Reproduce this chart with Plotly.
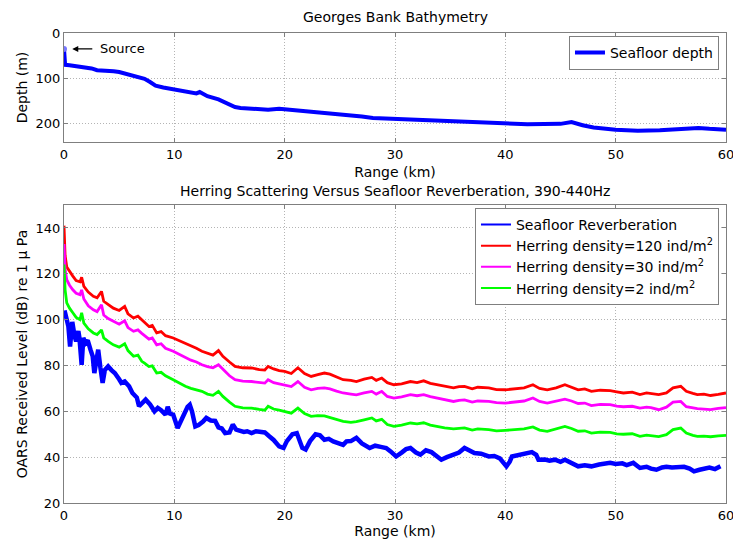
import plotly.graph_objects as go

# ---------------- Bathymetry ----------------
bathy_range_km = [0, 0.05, 0.1, 0.5, 1.0, 1.8, 2.5, 3.0, 3.5, 4.5, 5.0, 5.5, 6.5, 7.3, 7.8,
                  8.3, 9.0, 9.5, 10.5, 11.0, 12.0, 12.3, 13.0, 14.0, 15.0, 15.5, 16.0, 17.0,
                  18.5, 19.5, 21.0, 22.0, 25.0, 27.0, 28.0, 30.0, 32.0, 35.0, 38.0, 40.0,
                  42.0, 45.0, 46.0, 47.0, 48.0, 50.0, 52.0, 54.0, 56.0, 57.5, 58.5, 60.0]
bathy_depth_m = [35, 50, 70, 71, 73, 74, 78, 82, 82, 84, 86, 89, 95, 101, 108,
                 116, 120, 122, 126, 130, 133, 130, 139, 146, 156, 163, 165, 167,
                 169, 167, 170, 174, 178, 184, 187, 189, 192, 195, 199, 201,
                 201, 200, 196, 203, 208, 213, 215, 214, 212, 209, 211, 213]
source_range_km = [0]
source_depth_m = [35]

# ---------------- Received levels ----------------
herring_range_km = [0, 0.1, 0.25, 0.5, 0.8, 1.1, 1.45, 1.6, 1.8, 2.2, 2.66, 3.0, 3.4, 3.6, 4.0,
                    4.47, 5.0, 5.5, 5.8, 6.3, 6.7, 7.05, 7.3, 7.7, 8.0, 8.4, 8.8, 9.2, 9.9,
                    10.4, 11.0, 11.5, 12.0, 12.5, 13.0, 13.5, 14.0, 14.4, 15.0, 15.5, 16.2,
                    17.0, 17.7, 18.2, 18.5, 19.0, 19.5, 20.0, 20.6, 21.2, 21.8, 22.4, 23.0,
                    23.6, 24.1, 24.7, 25.3, 26.0, 26.5, 27.2, 27.9, 28.3, 28.8, 29.3, 29.9,
                    30.6, 31.4, 32.0, 32.6, 33.2, 33.8, 34.5, 35.3, 35.8, 36.3, 37.0, 37.5,
                    38.5, 39.2, 40.0, 40.9, 41.7, 42.5, 43.1, 43.8, 44.6, 45.4, 46.0, 46.6,
                    47.2, 47.8, 48.6, 49.5, 50.1, 50.7, 51.5, 52.2, 52.8, 53.2, 53.9, 54.6,
                    55.2, 55.9, 56.4, 57.0, 57.4, 58.0, 58.6, 59.3, 59.8, 60.0]

herring_120 = [141, 128, 123, 121, 119, 117, 116.5, 118.5, 114.5, 112, 110.2, 109.5, 112.3, 108, 106.5,
               105, 104, 105.8, 102.5, 100.7, 101.5, 100, 98.8, 97, 97.5, 94.2, 94.8, 93, 92,
               91, 89.8, 88.5, 87.5, 86.2, 85.2, 84.5, 86.5, 84, 81.5, 79.6, 79,
               78.9, 78.2, 78, 79.6, 78.5, 77.8, 77.4, 76.5, 79, 76.5, 75.2, 76,
               76.7, 76.2, 75, 73.8, 73.5, 73, 74, 74.8, 73.5, 74.5, 72.5, 71.6,
               72, 73, 72.5, 73.3, 72.2, 71.6, 71, 70.2, 70.8, 70.9, 69.8, 70.5,
               70.2, 69.5, 69.4, 69.8, 70.2, 71.6, 70, 69.4, 70.2, 71.6, 70.5, 69.4,
               69.8, 68.7, 69.2, 69, 68.5, 68, 68.4, 67.3, 68, 67.8, 67.3, 68,
               70.2, 70.9, 68.7, 67.8, 67.3, 67.5, 66.9, 67.4, 68, 68]

herring_30 = [133, 122, 117.4, 115, 113, 111.5, 110.9, 113, 109, 106, 104.3, 103.5, 106.5, 102, 100.5,
              99.2, 98, 99.5, 96.5, 94.9, 95.5, 94, 93, 91.5, 92, 89, 89.5, 87.5, 86.2,
              85, 83.3, 82.3, 81.5, 80.3, 79.5, 79, 80.3, 78.5, 75.5, 73.8, 73.2,
              73, 72.5, 72.3, 73.8, 72.5, 72, 71.6, 70.8, 73, 70.5, 69.4, 70,
              70.2, 69.8, 68.8, 68, 67.5, 67.2, 68, 68.7, 67.5, 68.7, 66.5, 65.8,
              66.3, 67.3, 66.8, 67.3, 66.4, 65.8, 65, 64.3, 64.8, 65, 64, 64.5,
              64.3, 63.8, 63.6, 64, 64.5, 65.8, 64.3, 63.6, 64.3, 65.3, 64.5, 63.4,
              63.6, 62.5, 63, 62.9, 62.3, 62, 62.2, 61.4, 61.8, 61.6, 60.7, 61.8,
              64, 64.3, 62, 61.5, 61.2, 61, 60.7, 61.3, 61.6, 61.6]

herring_2 = [124, 113, 107.3, 105, 103, 101, 100, 103, 98.5, 96, 94.2, 93.5, 95.5, 92, 90.5,
             89, 88, 89.5, 86.5, 84, 84.5, 81.8, 81, 79.5, 79.8, 76.7, 77, 75.5, 73.8,
             72.5, 70.9, 70, 69.5, 68.7, 67.5, 67, 68.7, 66.5, 64, 62.2, 61.5,
             61.4, 60.8, 60.5, 62.2, 61, 60.5, 60, 59.2, 61.4, 59, 57.8, 58.1,
             58, 57.3, 56.3, 55.6, 55.2, 55.5, 56.3, 57.1, 55.8, 56.5, 54.2, 53.4,
             54, 54.9, 54.5, 55, 54, 53.4, 52.8, 52.3, 52.5, 52.8, 51.8, 52.3,
             52, 51.5, 51.7, 52, 52.3, 53.2, 51.8, 51.3, 52.2, 53.4, 52.5, 51.3,
             51.5, 50.5, 50.9, 50.8, 50.2, 50, 50.2, 49.1, 49.6, 49.4, 49, 49.8,
             52, 52.7, 50.5, 49.5, 49.1, 49.2, 48.9, 49.3, 49.5, 49.5]

seafloor_range_km = [0.05, 0.2, 0.4, 0.55, 0.75, 0.95, 1.1, 1.3, 1.4, 1.6, 1.75, 1.95, 2.15, 2.4, 2.6,
                     2.75, 2.9, 3.1, 3.3, 3.5, 3.7, 4.0, 4.3, 4.6, 5.0, 5.2, 5.5, 5.9, 6.2, 6.6,
                     6.8, 7.1, 7.4, 7.8, 8.2, 8.5, 8.8, 9.2, 9.4, 9.6, 9.9, 10.3, 10.6, 10.9,
                     11.2, 11.4, 11.6, 11.9, 12.2, 12.6, 12.9, 13.3, 13.7, 14.0, 14.3, 14.6,
                     15.0, 15.3, 15.6, 15.9, 16.3, 16.6, 17.0, 17.4, 17.8, 18.2, 18.6, 19.0,
                     19.5, 19.9, 20.2, 20.7, 21.1, 21.4, 21.6, 21.9, 22.3, 22.8, 23.2, 23.6,
                     24.0, 24.4, 24.8, 25.3, 25.6, 26.0, 26.5, 27.0, 27.7, 28.2, 28.7, 29.2,
                     29.6, 30.1, 30.6, 31.0, 31.4, 31.9, 32.3, 32.8, 33.3, 33.8, 34.2, 34.7,
                     35.3, 35.8, 36.3, 36.8, 37.2, 37.8, 38.5, 39.0, 39.5, 40.1, 40.4, 40.6,
                     41.0, 41.4, 41.8, 42.4, 42.8, 43.0, 43.6, 44.0, 44.5, 45.0, 45.4, 46.0,
                     46.6, 47.2, 47.8, 48.5, 49.0, 49.5, 50.0, 50.6, 51.0, 51.6, 52.2, 52.8,
                     53.2, 53.7, 54.2, 54.6, 55.1, 55.6, 56.2, 56.7, 57.1, 57.6, 58.0, 58.5,
                     59.0, 59.4, 59.5]
seafloor_reverb = [104, 100, 97, 88.3, 99, 93, 90.5, 95, 92, 80.3, 92, 89.8, 91, 86.9, 84,
                   76.7, 82, 86.9, 79, 72.4, 78, 79.6, 78, 76.7, 74, 72.4, 73, 70.9, 68, 66,
                   62.2, 64, 65.1, 63, 60, 61.5, 60.5, 58.5, 62, 59, 58.5, 52.7, 56, 59.3,
                   62, 62.9, 60, 53.4, 54, 55.5, 57.1, 56, 55.8, 53, 52.5, 50.5,
                   50.8, 54.2, 52, 51.6, 51, 51.3, 50.5, 51.3, 51, 50.8, 49.1, 47.5,
                   44.7, 44, 47, 50, 50.5, 46, 44, 43.3, 47, 50, 49.5, 47.6,
                   48, 46.9, 46, 45.4, 46.9, 47, 48.4, 46, 44, 45, 44.5, 44,
                   42.5, 40.3, 42, 43.5, 44, 42, 41.1, 43, 42.2, 40.5, 38.9, 40,
                   41.1, 42, 44, 43, 41.8, 41.5, 40.3, 40.5, 39.5, 36, 38, 40.3,
                   40.8, 41, 41.8, 42.2, 41, 38.9, 39, 38.5, 38.9, 38, 38.9, 37.5,
                   36, 36.5, 36, 36.8, 37, 37.5, 37, 37.3, 36.5, 37.5, 35.3, 35.8,
                   35, 34.5, 35.5, 35.8, 35.5, 35.7, 35.8, 35, 33.8, 34.5, 35, 35.5,
                   34.8, 35.5, 36]

series_names = ["Seafloor Reverberation",
                "Herring density=120 ind/m<sup>2</sup>",
                "Herring density=30 ind/m<sup>2</sup>",
                "Herring density=2 ind/m<sup>2</sup>"]
series_colors = ["#0000ff", "#ff0000", "#ff00ff", "#00ff00"]

FONT = "DejaVu Sans, Liberation Sans, Arial, sans-serif"

fig = go.Figure()

# top panel
fig.add_trace(go.Scatter(x=bathy_range_km, y=bathy_depth_m, mode="lines",
                         line=dict(color="#0000ff", width=4), name="Seafloor depth",
                         xaxis="x", yaxis="y", legend="legend"))
fig.add_trace(go.Scatter(x=source_range_km, y=source_depth_m, mode="markers",
                         marker=dict(color="#7777ff", size=6, symbol="circle"),
                         showlegend=False, xaxis="x", yaxis="y"))

# bottom panel
series_values = [seafloor_reverb, herring_120, herring_30, herring_2]
series_x = [seafloor_range_km, herring_range_km, herring_range_km, herring_range_km]
series_widths = [4.5, 2.8, 2.8, 2.8]
for xs, ys, nm, col, w in zip(series_x, series_values, series_names, series_colors, series_widths):
    fig.add_trace(go.Scatter(x=xs, y=ys, mode="lines", line=dict(color=col, width=w),
                             name=nm, showlegend=False, legendgroup=nm,
                             xaxis="x2", yaxis="y2"))
# thin legend samples (as in the reference legend)
for nm, col in zip(series_names, series_colors):
    fig.add_trace(go.Scatter(x=[None], y=[None], mode="lines", line=dict(color=col, width=2),
                             name=nm, legendgroup=nm, xaxis="x2", yaxis="y2",
                             legend="legend2"))

axis_common = dict(showline=True, linecolor="#7f7f7f", linewidth=1, mirror="allticks",
                   ticks="inside", ticklen=4, tickcolor="#7f7f7f",
                   showgrid=True, gridcolor="#b4b4b4", griddash="1px,2px", gridwidth=1,
                   zeroline=False, tickfont=dict(size=13, color="black"),
                   title_font=dict(size=14, color="black"), automargin=False)

fig.update_layout(
    width=733, height=542,
    margin=dict(l=64, r=7, t=33, b=39),
    paper_bgcolor="white", plot_bgcolor="white",
    font=dict(family=FONT, size=13, color="black"),
    xaxis=dict(domain=[0, 1], range=[0, 60], tickvals=[0, 10, 20, 30, 40, 50, 60],
               anchor="y", ticklabeloverflow="allow",
               title=dict(text="Range (km)", standoff=6), **axis_common),
    yaxis=dict(domain=[0.768, 1.0], range=[240, 0], tickvals=[0, 100, 200],
               anchor="x", title=dict(text="Depth (m)", standoff=4), **axis_common),
    xaxis2=dict(domain=[0, 1], range=[0, 60], tickvals=[0, 10, 20, 30, 40, 50, 60],
                anchor="y2", ticklabeloverflow="allow",
                title=dict(text="Range (km)", standoff=3), **axis_common),
    yaxis2=dict(domain=[0, 0.634], range=[20, 150], tickvals=[20, 40, 60, 80, 100, 120, 140],
                anchor="x2", title=dict(text="OARS Received Level (dB) re 1 μ Pa", standoff=4),
                **axis_common),
    legend=dict(x=0.9894, xanchor="right", y=0.994, yanchor="top",
                bgcolor="white", bordercolor="#7f7f7f", borderwidth=1,
                font=dict(size=14), tracegroupgap=0, itemwidth=30),
    legend2=dict(x=0.9894, xanchor="right", y=0.628, yanchor="top",
                 bgcolor="white", bordercolor="#7f7f7f", borderwidth=1,
                 font=dict(size=14), tracegroupgap=0, itemwidth=30),
    showlegend=True,
)

fig.add_annotation(text="Georges Bank Bathymetry", xref="paper", yref="paper",
                   x=0.5, y=1.0, yshift=6, yanchor="bottom", showarrow=False,
                   font=dict(size=14))
fig.add_annotation(text="Herring Scattering Versus Seafloor Reverberation, 390-440Hz",
                   xref="paper", yref="paper", x=0.5, y=0.634, yshift=4, yanchor="bottom",
                   showarrow=False, font=dict(size=14))
# Source arrow + label
fig.add_annotation(x=0.75, y=35, xref="x", yref="y", ax=2.7, ay=35, axref="x", ayref="y",
                   showarrow=True, arrowhead=2, arrowsize=1, arrowwidth=1.2,
                   arrowcolor="black", text="")
fig.add_annotation(x=3.1, y=35, xref="x", yref="y", text="Source", showarrow=False,
                   xanchor="left", yanchor="middle", font=dict(size=13))

fig.write_html("out.html", config={"displayModeBar": False},
               post_script="document.body.style.margin='0';document.body.style.overflow='hidden';")
